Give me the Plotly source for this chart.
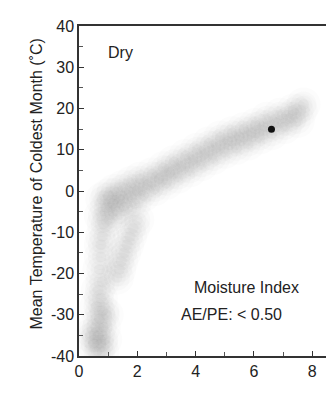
import plotly.graph_objects as go

# Hand-read positions of the grey point cloud (moisture index vs. coldest-month temperature)
cloud_x = [0.75, 0.8, 0.85, 0.95, 1.0, 1.05, 1.15, 1.2, 1.3, 1.4, 1.5, 1.55, 1.7, 1.8, 1.9, 2.0,
           2.1, 2.2, 2.35, 2.5, 2.6, 2.75, 2.9, 3.0, 3.1, 3.25, 3.4, 3.5, 3.65, 3.8, 3.9, 4.05,
           4.2, 4.3, 4.45, 4.6, 4.7, 4.85, 5.0, 5.1, 5.25, 5.4, 5.5, 5.65, 5.8, 5.9, 6.05, 6.2,
           6.3, 6.45, 6.6, 6.75, 6.9, 7.05, 7.2, 7.35, 7.5, 7.6, 7.7,
           2.0, 1.85, 1.75, 1.65, 1.55, 1.45, 1.38, 1.3,
           0.75, 0.7, 0.8, 0.65, 0.75, 0.6, 0.8, 0.7, 0.55, 0.85, 0.65, 0.75, 0.5, 0.9, 0.6, 0.8,
           0.4, 0.95, 0.8, 0.75]
cloud_y = [-6, -2, -8, -4, -1, -7, -3, 0, -5, -2, 1, -4, -1, 2, -3, 0,
           3, -1, 1.5, 4, 0.5, 3, 5.5, 2, 4.5, 7, 3.5, 6, 8.5, 5, 7.5, 10,
           6.5, 9, 11.5, 8, 10.5, 13, 9.5, 12, 14, 10.5, 13, 15, 11.5, 14, 16, 13,
           15.5, 17.5, 14, 16.5, 18.5, 15.5, 17.5, 19.5, 17, 19.5, 21,
           -7, -9, -11, -13, -15, -17, -19, -21,
           -16, -19, -22, -24, -26, -28, -29, -31, -33, -33, -35, -37, -37, -36, -39, -39,
           -35, -30, -11, -13]

# Highlighted single point
dot_x = [6.6]
dot_y = [15]

x_ticks = [0, 2, 4, 6, 8]
y_ticks = [-40, -30, -20, -10, 0, 10, 20, 30, 40]

FONT = "Liberation Sans, Arial, Helvetica, sans-serif"
INK = "#222222"

fig = go.Figure()
# soft halo layers to mimic a diffuse density cloud
for size, op in [(34, 0.025), (26, 0.028), (18, 0.032), (11, 0.035)]:
    fig.add_trace(go.Scatter(
        x=cloud_x, y=cloud_y, mode="markers",
        marker=dict(size=size, color="#7a7a7a", opacity=op, line=dict(width=0)),
        hoverinfo="skip", showlegend=False))
fig.add_trace(go.Scatter(
    x=dot_x, y=dot_y, mode="markers",
    marker=dict(size=7, color="#111111", symbol="circle", line=dict(width=0)),
    showlegend=False))

axis_common = dict(
    showgrid=False, zeroline=False, showline=True, linecolor="#333333", linewidth=1.5,
    mirror=True, ticks="inside", ticklen=5, tickwidth=1, tickcolor="#333333",
    tickfont=dict(family=FONT, size=16, color=INK),
)
fig.update_xaxes(range=[0, 8.95], tickvals=x_ticks, ticktext=[str(v) for v in x_ticks],
                 minor=dict(dtick=1, tick0=0, ticks="inside", ticklen=4, tickcolor="#555555"),
                 **axis_common)
fig.update_yaxes(range=[-40, 40], tickvals=y_ticks, ticktext=[str(v) for v in y_ticks],
                 minor=dict(dtick=5, tick0=0, ticks="inside", ticklen=4, tickcolor="#555555"),
                 **axis_common)

fig.add_annotation(text="Dry", x=0.92, y=33.5, xref="x", yref="y", xanchor="left",
                   showarrow=False, font=dict(family=FONT, size=16, color=INK))
fig.add_annotation(text="Moisture Index", x=5.73, y=-23.5, xref="x", yref="y",
                   showarrow=False, font=dict(family=FONT, size=16, color=INK))
fig.add_annotation(text="AE/PE: < 0.50", x=5.22, y=-30, xref="x", yref="y",
                   showarrow=False, font=dict(family=FONT, size=16, color=INK))
fig.add_annotation(text="Mean Temperature of Coldest Month (˚C)", x=0, y=0.5,
                   xref="paper", yref="paper", xshift=-54, yshift=7, textangle=-90,
                   showarrow=False, font=dict(family=FONT, size=16, color=INK))

fig.update_layout(
    width=334, height=412,
    margin=dict(l=71, r=0, t=18, b=64),
    paper_bgcolor="white", plot_bgcolor="white",
    showlegend=False,
)
fig.write_html("out.html")
